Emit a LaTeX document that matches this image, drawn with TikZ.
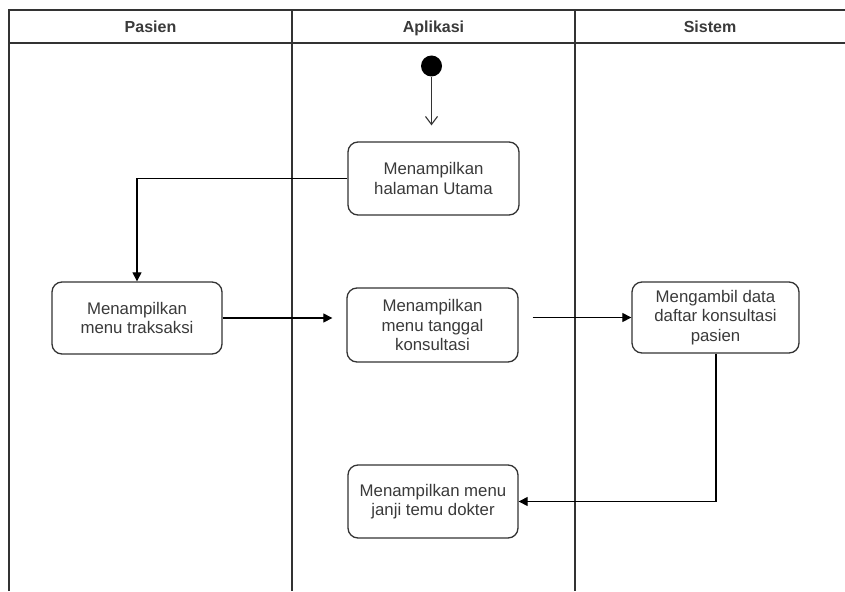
\documentclass[tikz,border=0pt]{standalone}
\usepackage{fontspec}
\setmainfont{Liberation Sans}
\usetikzlibrary{arrows.meta,calc}
\definecolor{txt}{HTML}{3A3A3A}
\definecolor{edge}{HTML}{333333}
\begin{document}
\begin{tikzpicture}[x=1pt,y=-1pt,
  lane/.style={draw=edge,line width=1.3pt},
  act/.style={draw=edge,line width=1.3pt,rounded corners=10pt,align=center,
    text=txt,font=\fontsize{16.8}{19.5}\selectfont,inner sep=0pt},
  hdr/.style={font=\bfseries\fontsize{16}{18}\selectfont,text=txt,anchor=base},
  flow/.style={draw=black,line width=1.1pt,-{Triangle[width=9pt,length=9pt]}},
  openflow/.style={draw=edge,line width=1.1pt,-{Straight Barb[width=12pt,length=8pt]}}]
\useasboundingbox[fill=white] (0,0) rectangle (845,591);
% swimlane frame
\draw[lane] (9,591) -- (9,10) -- (845,10);
\draw[lane] (9,43) -- (845,43);
\draw[lane] (292,10) -- (292,591);
\draw[lane] (575,10) -- (575,591);
\node[hdr] (hP) at (150.5,32.5) {Pasien};
\node[hdr] (hA) at (433.5,32.5) {Aplikasi};
\node[hdr] (hS) at (710,32.5) {Sistem};
% nodes
\node[circle,fill=black,minimum size=21pt,inner sep=0pt] (start) at (431.5,66) {};
\node[act,minimum width=171pt,minimum height=73pt] (utama) at (433.5,178.5) {Menampilkan\\halaman Utama};
\node[act,minimum width=170pt,minimum height=72pt] (trak) at (137,318) {Menampilkan\\menu traksaksi};
\node[act,minimum width=171pt,minimum height=74pt] (tgl) at (432.5,325) {Menampilkan\\menu tanggal\\konsultasi};
\node[act,minimum width=167pt,minimum height=71pt] (ambil) at (715.5,317.5) {Mengambil data\\daftar konsultasi\\pasien};
\node[act,minimum width=170pt,minimum height=73pt] (janji) at (433,501.5) {Menampilkan menu\\janji temu dokter};
% connectors
\draw[openflow,shorten >=16pt] (start) -- (start |- utama.north);
\draw[flow] (utama.west) -| (trak.north);
\draw[flow,shorten >=14pt] (trak.east) -- (tgl.west |- trak.east);
\draw[flow] ([xshift=14pt]tgl.east |- ambil.west) -- (ambil.west);
\draw[flow] ([xshift=0.5pt]ambil.south) |- (janji.east);
\end{tikzpicture}
\end{document}
